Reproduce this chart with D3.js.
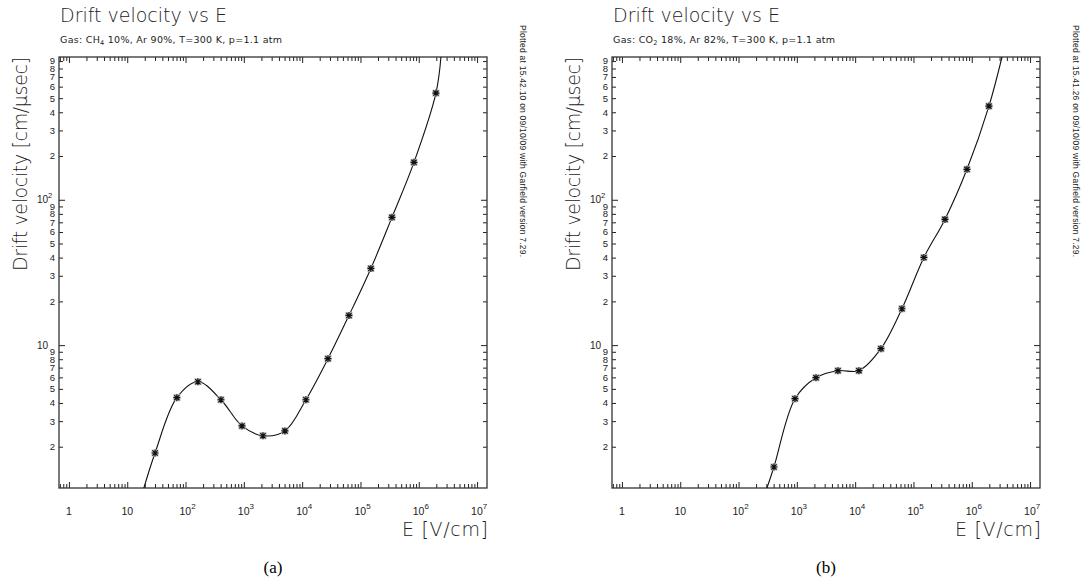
<!DOCTYPE html>
<html><head><meta charset="utf-8">
<script src="https://cdn.jsdelivr.net/npm/d3@7"></script>
<style>html,body{margin:0;padding:0;background:#fff;} svg{display:block}</style>
</head><body>
<script>
// ---- data ----
const fieldA = [30, 71, 163, 405, 930, 2130, 5070, 11600, 27700, 63500, 151000, 347000, 827000, 1970000];
const velocityA = [1.81, 4.35, 5.60, 4.21, 2.78, 2.38, 2.57, 4.21, 8.07, 16.0, 33.7, 75.7, 181, 542];
const curveStartA = [19.3, 1.04];
const curveEndA = [2.4e6, 960];

const fieldB = [405, 930, 2130, 5070, 11600, 27700, 63500, 151000, 347000, 827000, 1970000];
const velocityB = [1.45, 4.28, 5.97, 6.67, 6.67, 9.45, 17.8, 40.1, 73.3, 162, 441];
const curveStartB = [307, 1.04];
const curveEndB = [3.3e6, 960];

const xDomain = [0.676, 1.48e7];
const yDomain = [1.04, 960];

const xMajorValues = [1, 10, 1e2, 1e3, 1e4, 1e5, 1e6, 1e7];
const xTickBase = ["1", "10", "10", "10", "10", "10", "10", "10"];
const xTickExp = ["", "", "2", "3", "4", "5", "6", "7"];
const yMajorValues = [10, 100];
const yTickBase = ["10", "10"];
const yTickExp = ["", "2"];
const yMinorLabels = ["2", "3", "4", "5", "6", "7", "8", "9"];

const titleText = "Drift velocity vs E";
const gasA = ["Gas: CH", "4", " 10%, Ar 90%, T=300 K, p=1.1 atm"];
const gasB = ["Gas: CO", "2", " 18%, Ar 82%, T=300 K, p=1.1 atm"];
const stampA = "Plotted at 15.42.10 on 09/10/09 with Garfield version 7.29.";
const stampB = "Plotted at 15.41.26 on 09/10/09 with Garfield version 7.29.";
const yTitle = "Drift velocity [cm/\u03bcsec]";
const xTitle = "E [V/cm]";
const captions = ["(a)", "(b)"];

// ---- layout ----
const W = 1083, H = 588;
const plotTop = 57, plotBottom = 488;
const panels = [
  {x0: 59, x1: 487, field: fieldA, vel: velocityA, start: curveStartA, end: curveEndA, gas: gasA, stamp: stampA, cap: captions[0]},
  {x0: 612, x1: 1040, field: fieldB, vel: velocityB, start: curveStartB, end: curveEndB, gas: gasB, stamp: stampB, cap: captions[1]}
];
const thin = "'DejaVu Sans', 'Noto Sans', sans-serif";
const helv = "'Liberation Sans', Arial, sans-serif";
const ink = "#222";

const svg = d3.select("body").append("svg").attr("width", W).attr("height", H)
  .style("background", "#fff");

const isDecade = v => Math.abs(Math.log10(v) - Math.round(Math.log10(v))) < 1e-9;

panels.forEach((p, pi) => {
  const g = svg.append("g");
  const x = d3.scaleLog().domain(xDomain).range([p.x0, p.x1]);
  const y = d3.scaleLog().domain(yDomain).range([plotBottom, plotTop]);

  const xt = x.ticks();
  const xMaj = xt.filter(isDecade), xMin = xt.filter(v => !isDecade(v));
  const yt = y.ticks();
  const yMaj = yt.filter(isDecade), yMin = yt.filter(v => !isDecade(v));

  const styleAxis = sel => {
    sel.select(".domain").remove();
    sel.selectAll("text").remove();
    sel.selectAll("line").attr("stroke", ink).attr("stroke-width", 1);
  };
  const addAxis = (gen, tr) => g.append("g").attr("transform", tr).call(gen).call(styleAxis);

  addAxis(d3.axisBottom(x).tickValues(xMaj).tickSize(-6).tickFormat(""), `translate(0,${plotBottom})`);
  addAxis(d3.axisBottom(x).tickValues(xMin).tickSize(-4).tickFormat(""), `translate(0,${plotBottom})`);
  addAxis(d3.axisTop(x).tickValues(xMaj).tickSize(-6).tickFormat(""), `translate(0,${plotTop})`);
  addAxis(d3.axisTop(x).tickValues(xMin).tickSize(-4).tickFormat(""), `translate(0,${plotTop})`);
  addAxis(d3.axisLeft(y).tickValues(yMaj).tickSize(-6).tickFormat(""), `translate(${p.x0},0)`);
  addAxis(d3.axisLeft(y).tickValues(yMin).tickSize(-4).tickFormat(""), `translate(${p.x0},0)`);
  addAxis(d3.axisRight(y).tickValues(yMaj).tickSize(-6).tickFormat(""), `translate(${p.x1},0)`);
  addAxis(d3.axisRight(y).tickValues(yMin).tickSize(-4).tickFormat(""), `translate(${p.x1},0)`);

  // frame
  g.append("rect").attr("x", p.x0).attr("y", plotTop).attr("width", p.x1 - p.x0).attr("height", plotBottom - plotTop)
    .attr("fill", "none").attr("stroke", "#333").attr("stroke-width", 1.3);

  // x tick labels
  xMajorValues.forEach((v, i) => {
    const t = g.append("text").attr("font-family", helv).attr("font-size", 10.5).attr("fill", ink)
      .attr("x", x(v)).attr("y", 515).attr("text-anchor", xTickExp[i] ? "start" : "middle");
    if (xTickExp[i]) {
      t.attr("x", x(v) - 6);
      t.append("tspan").text(xTickBase[i]);
      t.append("tspan").attr("font-size", 8).attr("dy", -6).text(xTickExp[i]);
    } else {
      t.text(xTickBase[i]);
    }
  });
  // y minor labels
  yMin.forEach(v => {
    const d = Math.round(v / Math.pow(10, Math.floor(Math.log10(v) + 1e-9)));
    g.append("text").attr("font-family", helv).attr("font-size", 9.5).attr("fill", ink)
      .attr("x", p.x0 - 4).attr("y", y(v) + 3.4).attr("text-anchor", "end").text(yMinorLabels[d - 2]);
  });
  // y major labels
  yMajorValues.forEach((v, i) => {
    g.append("text").attr("font-family", helv).attr("font-size", 10).attr("fill", ink)
      .attr("x", p.x0 - 11).attr("y", y(v) + 3.6).attr("text-anchor", "end").text(yTickBase[i]);
    if (yTickExp[i]) {
      g.append("text").attr("font-family", helv).attr("font-size", 7.5).attr("fill", ink)
        .attr("x", p.x0 - 11).attr("y", y(v) - 2).attr("text-anchor", "start").text(yTickExp[i]);
    }
  });

  // titles
  g.append("text").attr("x", p.x0 + 1).attr("y", 22).attr("font-family", thin).attr("font-weight", 200)
    .attr("font-size", 19).attr("fill", ink).attr("textLength", 167).text(titleText);
  const sub = g.append("text").attr("x", p.x0 + 1).attr("y", 43).attr("font-family", thin)
    .attr("font-size", 9.5).attr("fill", ink).attr("textLength", 222);
  sub.append("tspan").text(p.gas[0]);
  sub.append("tspan").attr("font-size", 6.5).attr("dy", 2).text(p.gas[1]);
  sub.append("tspan").attr("dy", -2).text(p.gas[2]);

  g.append("text").attr("transform", `translate(${p.x0 - 32},${plotTop}) rotate(-90)`)
    .attr("text-anchor", "end").attr("font-family", thin).attr("font-weight", 200).attr("font-size", 19)
    .attr("fill", ink).attr("textLength", 214).text(yTitle);
  g.append("text").attr("x", p.x1 + 1).attr("y", 536).attr("text-anchor", "end")
    .attr("font-family", thin).attr("font-weight", 200).attr("font-size", 19).attr("fill", ink)
    .attr("textLength", 86).text(xTitle);

  g.append("text").attr("transform", `translate(${p.x1 + 33},25) rotate(90)`)
    .attr("font-family", helv).attr("font-size", 8.5).attr("fill", ink).attr("textLength", 232).text(p.stamp);

  g.append("text").attr("x", (p.x0 + p.x1) / 2).attr("y", 573).attr("text-anchor", "middle")
    .attr("font-family", "'Liberation Serif', 'Times New Roman', serif").attr("font-size", 17)
    .attr("fill", "#000").text(p.cap);

  // curve
  const cid = "clip" + pi;
  svg.append("clipPath").attr("id", cid).append("rect")
    .attr("x", p.x0).attr("y", plotTop).attr("width", p.x1 - p.x0).attr("height", plotBottom - plotTop);
  const pts = [p.start].concat(p.field.map((f, i) => [f, p.vel[i]])).concat([p.end]);
  const line = d3.line().x(d => x(d[0])).y(d => y(d[1])).curve(d3.curveCatmullRom.alpha(0.5));
  g.append("path").attr("clip-path", `url(#${cid})`).attr("d", line(pts))
    .attr("fill", "none").attr("stroke", "#111").attr("stroke-width", 1.1);

  // markers
  const mk = g.selectAll(".mk").data(p.field.map((f, i) => [f, p.vel[i]])).enter().append("g")
    .attr("transform", d => `translate(${x(d[0])},${y(d[1])})`);
  mk.append("rect").attr("x", -3.5).attr("y", -3.5).attr("width", 7).attr("height", 7).attr("fill", "#bbb");
  mk.append("path").attr("d", "M-3.5,0H3.5M0,-3.5V3.5M-2.6,-2.6L2.6,2.6M-2.6,2.6L2.6,-2.6")
    .attr("stroke", "#111").attr("stroke-width", 1.2);
});
</script>
</body></html>
